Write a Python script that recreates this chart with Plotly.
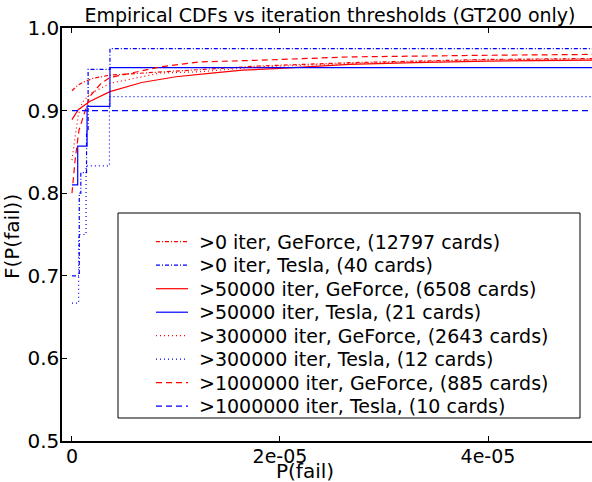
import plotly.graph_objects as go

# ---- data (x in units of 1e-6 P(fail)) ----
gf_x_e6 = {
    "gf0":    [0, 0.5, 1.0, 2.0, 3.65, 8.5, 12.3, 18.0, 26.7, 40.0, 50.0],
    "gf50k":  [0, 0.6, 1.7, 3.65, 6.7, 10.0, 13.2, 16.4, 20.0, 26.7, 33.0, 40.0, 50.0],
    "gf300k": [0, 0.3, 0.6, 1.0, 1.7, 3.65, 8.5, 12.3, 18.0, 26.7, 40.0, 50.0],
    "gf1m":   [0, 0.3, 0.67, 1.0, 1.7, 2.8, 3.65, 8.5, 12.3, 18.0, 26.7, 40.0, 50.0],
}
gf_y = {
    "gf0":    [0.924, 0.930, 0.934, 0.939, 0.943, 0.947, 0.950, 0.954, 0.958, 0.962, 0.963],
    "gf50k":  [0.889, 0.901, 0.911, 0.923, 0.934, 0.941, 0.945, 0.949, 0.951, 0.956, 0.958, 0.960, 0.961],
    "gf300k": [0.840, 0.870, 0.895, 0.910, 0.920, 0.933, 0.9455, 0.947, 0.953, 0.957, 0.9615, 0.9625],
    "gf1m":   [0.800, 0.840, 0.876, 0.890, 0.917, 0.933, 0.940, 0.953, 0.959, 0.961, 0.965, 0.967, 0.968],
}
tesla_x_e6 = {
    "t0":    [0, 0.7, 0.85, 1.4, 1.55, 3.65, 50.0],
    "t50k":  [0, 0.55, 1.45, 3.65, 50.0],
    "t300k": [0, 0.64, 1.35, 3.6, 50.0],
    "t1m":   [0, 50.0],
}
tesla_y = {
    "t0":    [0.700, 0.800, 0.825, 0.875, 0.950, 0.975, 0.975],
    "t50k":  [0.810, 0.857, 0.905, 0.952, 0.952],
    "t300k": [0.667, 0.750, 0.833, 0.917, 0.917],
    "t1m":   [0.900, 0.900],
}
names = {
    "gf0": ">0 iter, GeForce, (12797 cards)",
    "t0": ">0 iter, Tesla, (40 cards)",
    "gf50k": ">50000 iter, GeForce, (6508 cards)",
    "t50k": ">50000 iter, Tesla, (21 cards)",
    "gf300k": ">300000 iter, GeForce, (2643 cards)",
    "t300k": ">300000 iter, Tesla, (12 cards)",
    "gf1m": ">1000000 iter, GeForce, (885 cards)",
    "t1m": ">1000000 iter, Tesla, (10 cards)",
}
order = ["gf0", "t0", "gf50k", "t50k", "gf300k", "t300k", "gf1m", "t1m"]

x_tickvals = [0, 2e-5, 4e-5]
x_ticktext = ["0", "2e-05", "4e-05"]
y_tickvals = [0.5, 0.6, 0.7, 0.8, 0.9, 1.0]
y_ticktext = ["0.5", "0.6", "0.7", "0.8", "0.9", "1.0"]

dashes = {
    "0": "4px,2px,1px,2px",
    "50k": "solid",
    "300k": "1px,3px",
    "1m": "6px,4px",
}

FONT = "DejaVu Sans"
W, H = 592, 482
L, R, T, B = 62, 0, 28, 41
PW, PH = W - L - R, H - T - B


def px2paper_x(px):
    return (px - L) / PW


def px2paper_y(py):
    return (H - B - py) / PH


fig = go.Figure()
shapes = [dict(type="rect", xref="paper", yref="paper",
               x0=px2paper_x(118), x1=px2paper_x(580),
               y0=px2paper_y(418), y1=px2paper_y(213),
               line=dict(color="black", width=1), fillcolor="white", layer="below")]
annotations = []

for i, key in enumerate(order):
    if key.startswith("gf"):
        xs = [v * 1e-6 for v in gf_x_e6[key]]
        ys = gf_y[key]
        color = "#ff0000"
        shape = "linear"
        dk = key[2:]
    else:
        xs = [v * 1e-6 for v in tesla_x_e6[key]]
        ys = tesla_y[key]
        color = "#0000ff"
        shape = "hv"
        dk = key[1:]
    fig.add_trace(go.Scatter(
        x=xs, y=ys, mode="lines", name=names[key], showlegend=False,
        line=dict(color=color, width=1.2, dash=dashes[dk], shape=shape),
    ))
    # legend entry (sample line + label)
    row_y = 241.7 + 23.5 * i
    shapes.append(dict(type="line", xref="paper", yref="paper",
                       x0=px2paper_x(156), x1=px2paper_x(188),
                       y0=px2paper_y(row_y), y1=px2paper_y(row_y),
                       line=dict(color=color, width=1.2, dash=dashes[dk])))
    annotations.append(dict(text=names[key], xref="paper", yref="paper",
                            x=px2paper_x(197), y=px2paper_y(row_y),
                            xanchor="left", yanchor="middle", showarrow=False,
                            font=dict(size=19, family=FONT, color="black")))

# axis titles
annotations.append(dict(text="P(fail)", xref="paper", yref="paper",
                        x=px2paper_x(305), y=px2paper_y(471), xanchor="center",
                        yanchor="middle", showarrow=False,
                        font=dict(size=20, family=FONT, color="black")))
annotations.append(dict(text="F(P(fail))", xref="paper", yref="paper",
                        x=px2paper_x(12), y=px2paper_y(236), xanchor="center",
                        yanchor="middle", showarrow=False, textangle=-90,
                        font=dict(size=20, family=FONT, color="black")))

fig.update_layout(
    width=W, height=H,
    margin=dict(l=L, r=R, t=T, b=B, pad=0, autoexpand=False),
    paper_bgcolor="white", plot_bgcolor="white",
    font=dict(family=FONT, color="black", size=19),
    title=dict(text="Empirical CDFs vs iteration thresholds (GT200 only)",
               x=330 / W, xanchor="center", xref="container",
               y=1 - 15 / H, yanchor="middle", yref="container",
               font=dict(size=19, family=FONT)),
    showlegend=False,
    shapes=shapes,
    annotations=annotations,
)
fig.update_xaxes(
    range=[-0.96e-6, 50e-6], tickvals=x_tickvals, ticktext=x_ticktext,
    showline=True, linecolor="black", linewidth=1.5, mirror="ticks",
    ticks="inside", ticklen=5, tickcolor="black", showgrid=False, zeroline=False,
    tickfont=dict(size=19), automargin=False,
)
fig.update_yaxes(
    range=[0.5, 1.0], tickvals=y_tickvals, ticktext=y_ticktext,
    showline=True, linecolor="black", linewidth=1.5, mirror=False,
    ticks="inside", ticklen=5, tickcolor="black", showgrid=False, zeroline=False,
    tickfont=dict(size=20), automargin=False,
)
try:
    fig.update_yaxes(ticklabelstandoff=-3)
    fig.update_xaxes(ticklabelstandoff=-3)
except Exception:
    pass
fig.write_html("out.html",
               config={"displayModeBar": False},
               post_script="document.body.style.margin='0';document.body.style.padding='0';")
